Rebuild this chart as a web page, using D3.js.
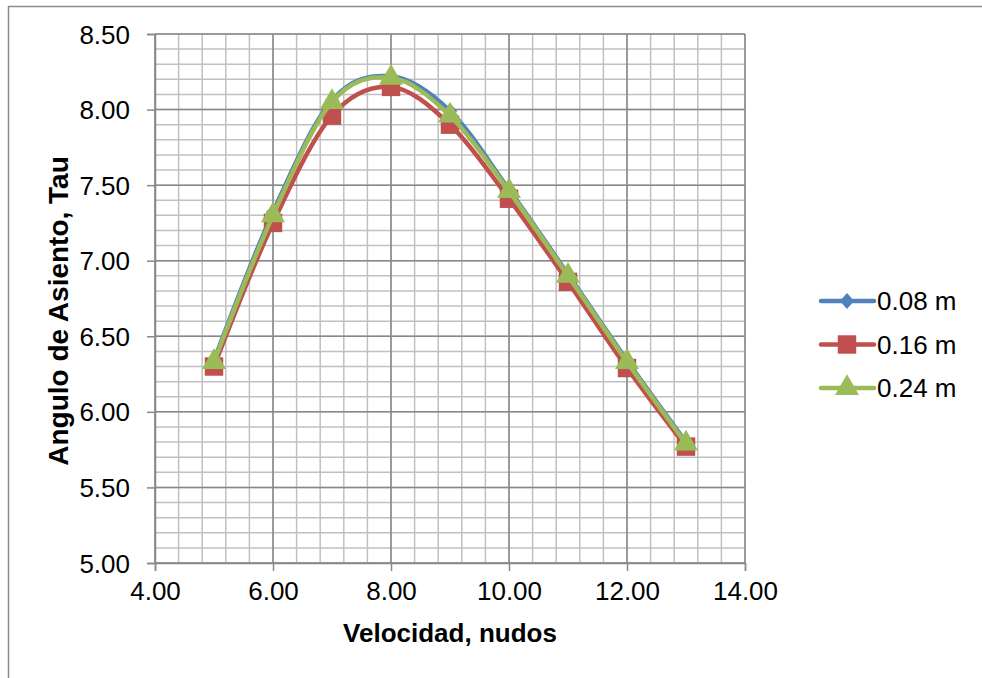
<!DOCTYPE html>
<html>
<head>
<meta charset="utf-8">
<script src="https://cdn.jsdelivr.net/npm/d3@7"></script>
<style>
  body { margin: 0; background: #fff; }
  svg { font-family: "Liberation Sans", Arial, sans-serif; }
</style>
</head>
<body>
<div id="chart"></div>
<script>
// datos
const velocidad = [5, 6, 7, 8, 9, 10, 11, 12, 13];
const serie008 = [6.34, 7.32, 8.06, 8.22, 7.99, 7.47, 6.91, 6.34, 5.80];
const serie016 = [6.30, 7.25, 7.96, 8.15, 7.90, 7.41, 6.86, 6.29, 5.77];
const serie024 = [6.33, 7.30, 8.05, 8.21, 7.96, 7.46, 6.90, 6.33, 5.79];
const nombres = ['0.08 m', '0.16 m', '0.24 m'];
const xTicks = [4, 6, 8, 10, 12, 14];
const yTicks = [5.0, 5.5, 6.0, 6.5, 7.0, 7.5, 8.0, 8.5];

const width = 982;
const height = 678;
const margin = {top: 34, right: 237, bottom: 115, left: 155};
const innerWidth = width - margin.left - margin.right;
const innerHeight = height - margin.top - margin.bottom;

const colores = ['#4F81BD', '#C0504D', '#9BBB59'];
const formato = d3.format('.2f');

const svg = d3.select('#chart')
  .append('svg')
  .attr('width', width)
  .attr('height', height);

// marco exterior
svg.append('path')
  .attr('d', 'M8.5,678 V6.5 H982')
  .attr('fill', 'none')
  .attr('stroke', '#8c8c8c')
  .attr('stroke-width', 1.5);

const g = svg.append('g')
  .attr('transform', `translate(${margin.left},${margin.top})`);

const x = d3.scaleLinear().domain([4, 14]).range([0, innerWidth]);
const y = d3.scaleLinear().domain([5, 8.5]).range([innerHeight, 0]);

// líneas de división secundarias
const xMinor = d3.range(4, 14.001, 0.4);
const yMinor = d3.range(5, 8.501, 0.1);
g.append('g').selectAll('line')
  .data(xMinor)
  .enter().append('line')
  .attr('x1', d => x(d)).attr('x2', d => x(d))
  .attr('y1', 0).attr('y2', innerHeight)
  .attr('stroke', '#c0c0c0').attr('stroke-width', 1.5);
g.append('g').selectAll('line')
  .data(yMinor)
  .enter().append('line')
  .attr('y1', d => y(d)).attr('y2', d => y(d))
  .attr('x1', 0).attr('x2', innerWidth)
  .attr('stroke', '#c0c0c0').attr('stroke-width', 1.5);

// líneas de división principales
g.append('g').selectAll('line')
  .data(xTicks)
  .enter().append('line')
  .attr('x1', d => x(d)).attr('x2', d => x(d))
  .attr('y1', 0).attr('y2', innerHeight)
  .attr('stroke', '#888').attr('stroke-width', 1.5);
g.append('g').selectAll('line')
  .data(yTicks)
  .enter().append('line')
  .attr('y1', d => y(d)).attr('y2', d => y(d))
  .attr('x1', 0).attr('x2', innerWidth)
  .attr('stroke', '#888').attr('stroke-width', 1.5);

// ejes
const xAxis = g.append('g')
  .attr('transform', `translate(0,${innerHeight})`)
  .call(d3.axisBottom(x).tickValues(xTicks).tickFormat(formato).tickSize(8).tickPadding(11));
const yAxis = g.append('g')
  .call(d3.axisLeft(y).tickValues(yTicks).tickFormat(formato).tickSize(8).tickPadding(17));
[xAxis, yAxis].forEach(a => {
  a.select('.domain').attr('stroke', '#888').attr('stroke-width', 1.5);
  a.selectAll('.tick line').attr('stroke', '#888').attr('stroke-width', 1.5);
  a.selectAll('text')
    .attr('fill', '#000')
    .style('font-size', '26px')
    .style('font-family', '"Liberation Sans", Arial, sans-serif');
});
yAxis.selectAll('text').attr('dy', '0.35em');

// títulos de ejes
svg.append('text')
  .attr('x', margin.left + innerWidth / 2)
  .attr('y', 642)
  .attr('text-anchor', 'middle')
  .style('font-size', '26px')
  .style('font-weight', 'bold')
  .text('Velocidad, nudos');
svg.append('text')
  .attr('transform', 'translate(68,311) rotate(-90)')
  .attr('text-anchor', 'middle')
  .style('font-size', '28px')
  .style('font-weight', 'bold')
  .text('Angulo de Asiento, Tau');

// series
const series = [serie008, serie016, serie024];
const linea = d3.line()
  .x(d => x(d[0]))
  .y(d => y(d[1]))
  .curve(d3.curveCardinal.tension(0));

const simbolos = [
  d3.symbol().type(d3.symbolDiamond2).size(160),
  d3.symbol().type(d3.symbolSquare).size(340),
  d3.symbol().type(d3.symbolTriangle).size(250)
];
const escala = ['scale(0.9,1)', '', ''];

series.forEach((vals, i) => {
  const pts = velocidad.map((v, j) => [v, vals[j]]);
  const sg = g.append('g');
  sg.append('path')
    .datum(pts)
    .attr('d', linea)
    .attr('fill', 'none')
    .attr('stroke', colores[i])
    .attr('stroke-width', 4.5)
    .attr('stroke-linecap', 'round');
  sg.selectAll('path.m')
    .data(pts)
    .enter().append('path')
    .attr('class', 'm')
    .attr('d', simbolos[i])
    .attr('transform', d => `translate(${x(d[0])},${y(d[1])}) ${escala[i]}`)
    .attr('fill', colores[i]);
});

// leyenda
const leyenda = svg.append('g');
nombres.forEach((n, i) => {
  const ly = 301 + i * 43.5;
  const lg = leyenda.append('g').attr('transform', `translate(0,${ly})`);
  lg.append('line')
    .attr('x1', 821).attr('x2', 874)
    .attr('stroke', colores[i])
    .attr('stroke-width', 4.5)
    .attr('stroke-linecap', 'round');
  lg.append('path')
    .attr('d', simbolos[i])
    .attr('transform', `translate(847,0) ${escala[i]}`)
    .attr('fill', colores[i]);
  lg.append('text')
    .attr('x', 877)
    .attr('dy', '0.35em')
    .style('font-size', '26px')
    .text(n);
});
</script>
</body>
</html>
